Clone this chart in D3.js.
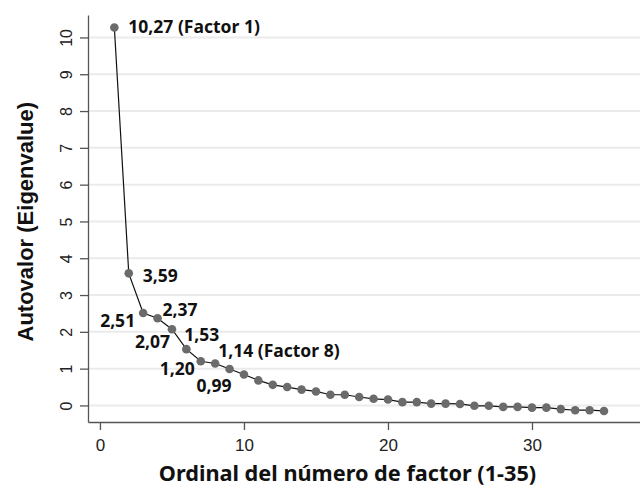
<!DOCTYPE html>
<html>
<head>
<meta charset="utf-8">
<script src="https://cdn.jsdelivr.net/npm/d3@7"></script>
<style>
  body { margin: 0; background: #fff; }
  svg { display: block; }
</style>
</head>
<body>
<svg id="chart"></svg>
<script>
// factor number 1..35 and eigenvalue of each
const factors = d3.range(1, 36);
const eigenvalues = [
    10.27, 3.59, 2.51, 2.37, 2.07, 1.53, 1.20, 1.14, 0.99, 0.84,
    0.68, 0.56, 0.50, 0.43, 0.38, 0.29, 0.29, 0.23, 0.18, 0.16,
    0.09, 0.09, 0.05, 0.05, 0.04, -0.01, -0.01, -0.04, -0.04, -0.06,
    -0.06, -0.10, -0.13, -0.13, -0.15
];
const xTicks = [0, 10, 20, 30];
const yTicks = [0, 1, 2, 3, 4, 5, 6, 7, 8, 9, 10];

// annotated points: factor number and text
const labelFactors = [1, 2, 3, 4, 5, 6, 7, 8, 9];
const labelTexts = ['10,27 (Factor 1)', '3,59', '2,51', '2,37', '2,07', '1,53', '1,20', '1,14 (Factor 8)', '0,99'];

// label offsets from the point (dx, dy, anchor) -- styling only
const labelOffsets = [
    [14, 5, 'start'], [14, 9, 'start'], [-8, 14, 'end'], [5, -2, 'start'],
    [-2, 19, 'end'], [-2, -8, 'start'], [-6, 14, 'end'], [3, -6, 'start'], [-33, 23, 'start']
];

const width = 640, height = 489;
const margin = {top: 15, right: 0, bottom: 67, left: 88};
const innerW = width - margin.left - margin.right;
const innerH = height - margin.top - margin.bottom;

const svg = d3.select('#chart').attr('width', width).attr('height', height);
const chart = svg.append('g').attr('transform', `translate(${margin.left}, ${margin.top})`);

const xscale = d3.scaleLinear().domain([-0.83, 37.5]).range([0, innerW]);
const yscale = d3.scaleLinear().domain([-0.45, 10.61]).range([innerH, 0]);

// grid lines
chart.append('g').selectAll('line')
    .data(yTicks)
    .join('line')
    .attr('x1', 0).attr('x2', innerW)
    .attr('y1', d => yscale(d)).attr('y2', d => yscale(d))
    .attr('stroke', '#ebebeb')
    .attr('stroke-width', 2);

// axes
const xaxis = d3.axisBottom(xscale).tickValues(xTicks).tickSize(8).tickSizeOuter(0);
const yaxis = d3.axisLeft(yscale).tickValues(yTicks).tickSize(8).tickSizeOuter(0);

const xg = chart.append('g').attr('transform', `translate(0, ${innerH})`).call(xaxis);
const yg = chart.append('g').call(yaxis);

[xg, yg].forEach(g => {
    g.select('.domain').attr('stroke', '#555').attr('stroke-width', 1.3);
    g.selectAll('.tick line').attr('stroke', '#555').attr('stroke-width', 1.3);
    g.selectAll('.tick text')
        .attr('fill', '#222')
        .style('font-family', '"Liberation Sans", Arial, sans-serif');
});
xg.selectAll('.tick text').style('font-size', '17px').attr('dy', '1.05em');
yg.selectAll('.tick text')
    .style('font-size', '16px')
    .attr('text-anchor', 'middle')
    .attr('x', 0).attr('dy', 0)
    .attr('transform', 'translate(-16, 0) rotate(-90)');

// line + points
const line = d3.line()
    .x((d, i) => xscale(factors[i]))
    .y(d => yscale(d));

chart.append('path')
    .datum(eigenvalues)
    .attr('d', line)
    .attr('fill', 'none')
    .attr('stroke', '#111')
    .attr('stroke-width', 1.2);

chart.selectAll('.pt')
    .data(eigenvalues)
    .join('circle')
    .attr('class', 'pt')
    .attr('cx', (d, i) => xscale(factors[i]))
    .attr('cy', d => yscale(d))
    .attr('r', 4.3)
    .attr('fill', '#6b6b6b');

// annotations
chart.selectAll('.lbl')
    .data(labelFactors)
    .join('text')
    .attr('class', 'lbl')
    .attr('x', (f, i) => xscale(f) + labelOffsets[i][0])
    .attr('y', (f, i) => yscale(eigenvalues[f - 1]) + labelOffsets[i][1])
    .attr('text-anchor', (f, i) => labelOffsets[i][2])
    .style('font-family', '"Noto Sans", "Open Sans", sans-serif')
    .style('font-weight', 'bold')
    .style('font-size', '17.5px')
    .attr('fill', '#111')
    .text((f, i) => labelTexts[i]);

// axis titles
svg.append('text')
    .attr('x', 347.5)
    .attr('y', 481)
    .attr('text-anchor', 'middle')
    .style('font-family', '"Noto Sans", "Open Sans", sans-serif')
    .style('font-weight', 'bold')
    .style('font-size', '21.7px')
    .attr('fill', '#111')
    .text('Ordinal del número de factor (1-35)');

svg.append('text')
    .attr('transform', 'translate(33, 221.7) rotate(-90)')
    .attr('text-anchor', 'middle')
    .style('font-family', '"Liberation Sans", Arial, sans-serif')
    .style('font-weight', 'bold')
    .style('font-size', '22px')
    .attr('fill', '#111')
    .text('Autovalor (Eigenvalue)');
</script>
</body>
</html>
